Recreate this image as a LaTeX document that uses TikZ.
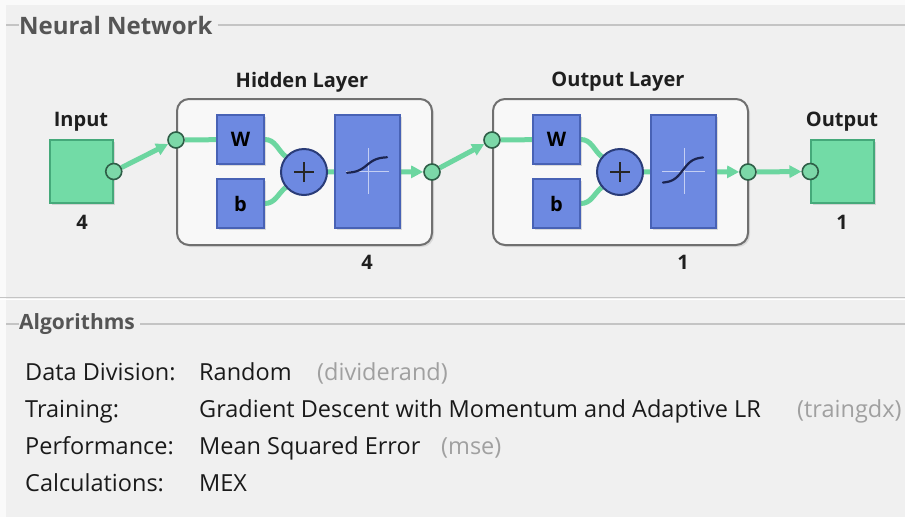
\documentclass[tikz,border=0pt]{standalone}
\usepackage{fontspec}
\setmainfont{Open Sans}
\usetikzlibrary{arrows.meta, positioning, shadows, backgrounds}
\definecolor{panel}{HTML}{F0F0F0}
\definecolor{etch}{HTML}{C4C4C4}
\definecolor{grouptext}{HTML}{555555}
\definecolor{bodytext}{HTML}{1A1A1A}
\definecolor{parentext}{HTML}{A0A0A0}
\definecolor{wiregreen}{HTML}{6CD6A0}
\definecolor{iogreen}{HTML}{72DBA6}
\definecolor{iogreenedge}{HTML}{45A97A}
\definecolor{portgreen}{HTML}{7CD8A8}
\definecolor{portedge}{HTML}{2E5E47}
\definecolor{boxblue}{HTML}{6D89E1}
\definecolor{blueedge}{HTML}{4862B5}
\definecolor{sumedge}{HTML}{2A3C78}
\definecolor{curvenavy}{HTML}{1B2450}
\definecolor{layerfill}{HTML}{F8F8F8}
\definecolor{layeredge}{HTML}{707070}
\pgfdeclarelayer{wires}
\pgfsetlayers{background,wires,main}
\tikzset{
  groove/.style={draw=etch, line width=1.3pt},
  group/.style={inner sep=0pt, text=grouptext, font=\bfseries\fontsize{21}{24}\selectfont},
  heading/.style={inner sep=0pt, text=black!88, font=\bfseries\fontsize{20}{22}\selectfont},
  key/.style={anchor=west, inner sep=0pt, text height=17pt, text depth=6pt, text=bodytext, font=\fontsize{23.5}{26}\selectfont},
  fn/.style={key, text=parentext},
  layer/.style={draw=layeredge, fill=layerfill, line width=2pt, rounded corners=12pt, minimum width=255pt, minimum height=146pt,
    drop shadow={shadow xshift=2pt, shadow yshift=-2pt, opacity=0.2}},
  io/.style={draw=iogreenedge, fill=iogreen, line width=1.5pt, minimum size=63pt, inner sep=0pt,
    drop shadow={shadow xshift=1.5pt, shadow yshift=-1.5pt, opacity=0.25}},
  port/.style={circle, draw=portedge, fill=portgreen, line width=1.6pt, minimum size=16pt, inner sep=0pt},
  weight/.style={draw=blueedge, fill=boxblue, line width=1.5pt, minimum width=47pt, minimum height=49pt, inner sep=0pt,
    font=\bfseries\fontsize{20}{22}\selectfont, drop shadow={shadow xshift=1.5pt, shadow yshift=-1.5pt, opacity=0.25}},
  sum/.style={circle, draw=sumedge, fill=boxblue, line width=2pt, minimum size=46pt, inner sep=0pt,
    path picture={\draw[black!85, line width=2.6pt]
      ([xshift=-10pt]path picture bounding box.center) -- ([xshift=10pt]path picture bounding box.center)
      ([yshift=-10pt]path picture bounding box.center) -- ([yshift=10pt]path picture bounding box.center);}},
  transfer/.style={draw=blueedge, fill=boxblue, line width=1.5pt, minimum width=65pt, minimum height=113pt, inner sep=0pt,
    drop shadow={shadow xshift=1.5pt, shadow yshift=-1.5pt, opacity=0.25}},
  cross/.style={draw=white, line width=1pt, opacity=0.6},
  curve/.style={draw=curvenavy, line width=2.2pt, line cap=round},
  wire/.style={draw=wiregreen, line width=5pt},
  flow/.style={-{Triangle[length=12pt, width=12pt]}},
}

\begin{document}
\begin{tikzpicture}[x=1pt, y=-1pt]
  \useasboundingbox (0,0) rectangle (905,517);
  \begin{pgfonlayer}{background}
    \fill[white!70!panel] (0,0) rectangle (905,517);
    \fill[panel] (6,5) rectangle (905,517);
  \end{pgfonlayer}

  % network panel
  \node[group, anchor=west, font=\bfseries\fontsize{24}{26}\selectfont] (nettitle) at (19,25) {Neural Network};
  \draw[groove] (6,25) -- (nettitle.west) (nettitle.east) ++(5,0) -- (905,25);

  \node[io] (input) at (81.5,171.5) {};
  \node[port] (inport) at (input.east) {};
  \node[heading] (inlabel) at (81,122) {Input};
  \node[heading] (insize) at (82,222) {4};

  \node[io] (output) at (842.5,171.5) {};
  \node[port] (outport) at (output.west) {};
  \node[heading] (outlabel) at (842,122) {Output};
  \node[heading] (outsize) at (842,222) {1};

  \foreach \l/\x/\t/\n/\c/\h in {hid/177/Hidden Layer/4/165/8, out/493/Output Layer/1/170/13} {
    \begin{pgfonlayer}{background}
      \node[layer] (\l) at ({\x+127.5},172) {};
    \end{pgfonlayer}
    \node[heading] (\l-title) at ({\x+125},82) {\t};
    \node[heading] (\l-size) at ({\x+190},262) {\n};
    \node[port] (\l-in) at ({\x-1},140) {};
    \node[port] (\l-out) at ({\x+255},172) {};
    \node[weight] (\l-w) at ({\x+63.5},139.5) {W};
    \node[weight] (\l-b) at ({\x+63.5},203.5) {b};
    \node[sum] (\l-sum) at ({\x+127},172) {};
    \node[transfer] (\l-f) at ({\x+190.5},171.5) {};
    \draw[cross] ({\x+169},171) -- ({\x+212},171) ({\x+191},148) -- ({\x+191},194);
    \draw[curve] plot[domain=-1:1, samples=30, variable=\u] ({\x+190+20*\u},{\c-\h*tanh(2*\u)});
    \begin{pgfonlayer}{wires}
      \draw[wire] (\l-in) -- (\l-w);
      \draw[wire] (\l-w.east) to[out=0, in=140] (\l-sum);
      \draw[wire] (\l-b.east) to[out=0, in=-140] (\l-sum);
      \draw[wire] (\l-sum) -- (\l-f);
      \draw[wire, flow] (\l-f) -- (\l-out);
    \end{pgfonlayer}
  }

  \begin{pgfonlayer}{wires}
    \draw[wire, flow] (inport) -- (hid-in);
    \draw[wire, flow] (hid-out) -- (out-in);
    \draw[wire, flow] (out-out) -- (outport);
  \end{pgfonlayer}

  \draw[groove] (0,297.5) -- (905,297.5);
  \draw[white, line width=1pt] (0,299.5) -- (905,299.5);

  % algorithms panel
  \node[group, anchor=west] (algtitle) at (19,324) {Algorithms};
  \draw[groove] (6,324) -- (algtitle.west) (algtitle.east) ++(5,0) -- (905,324);

  \foreach \y/\k/\v in {375/Data Division:/Random, 412/Training:/Gradient Descent with Momentum and Adaptive LR,
                        449/Performance:/Mean Squared Error, 486/Calculations:/MEX} {
    \node[key] (key-\y) at (25,\y) {\k};
    \node[key] (val-\y) at (199,\y) {\v};
  }
  \node[fn] (fn-375) at (317,375) {(dividerand)};
  \node[fn] (fn-412) at (797,412) {(traingdx)};
  \node[fn] (fn-449) at (441,449) {(mse)};
\end{tikzpicture}
\end{document}
